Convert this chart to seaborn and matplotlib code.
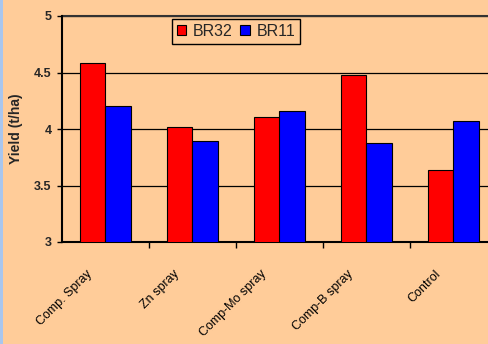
import matplotlib
matplotlib.use("Agg")
import matplotlib.pyplot as plt
import matplotlib.patches as mpatches
import matplotlib.transforms as mtransforms
from matplotlib.ticker import FixedLocator
import seaborn as sns
import pandas as pd

treatments = ["Comp. Spray", "Zn spray", "Comp-Mo spray", "Comp-B spray", "Control"]
br32 = [4.58, 4.02, 4.11, 4.48, 3.64]
br11 = [4.20, 3.89, 4.16, 3.88, 4.07]
varieties = ["BR32", "BR11"]
yticks = [3, 3.5, 4, 4.5, 5]

df = pd.DataFrame({
    "Treatment": treatments * 2,
    "Variety": [varieties[0]] * len(treatments) + [varieties[1]] * len(treatments),
    "Yield": br32 + br11,
})

sns.set_theme(style="white")
plt.rcParams["font.family"] = ["Liberation Sans", "DejaVu Sans"]

bg = "#FFCC99"
fig = plt.figure(figsize=(4.89, 3.44), dpi=100, facecolor=bg)
fig.patches.append(mpatches.Rectangle((0, 0), 3 / 489, 1, transform=fig.transFigure,
                                      facecolor="#A9C6EE", edgecolor="none", zorder=0))

ax = fig.add_axes([62 / 489, 102 / 344, 427 / 489, 226 / 344])
ax.set_facecolor(bg)

sns.barplot(data=df, x="Treatment", y="Yield", hue="Variety", order=treatments,
            hue_order=varieties, palette={"BR32": "#FF0000", "BR11": "#0000FF"},
            width=0.58, gap=0, edgecolor="black", linewidth=0.8, saturation=1,
            errorbar=None, ax=ax, zorder=3)

ax.set_ylim(3, 5)
ax.set_xlim(-0.5, -0.5 + 427 / 87)
ax.set_yticks(yticks)
ax.set_yticklabels(["3", "3.5", "4", "4.5", "5"], fontsize=9, fontweight="bold")
ax.yaxis.grid(True, color="black", linewidth=0.9, zorder=1)
ax.set_axisbelow(True)
ax.tick_params(axis="y", which="major", left=True, length=3.6, width=1, color="black", pad=4)

# category boundaries carry the x ticks; labels are placed by hand below
ax.set_xticks([])
ax.xaxis.set_minor_locator(FixedLocator([0.5, 1.5, 2.5, 3.5]))
ax.tick_params(axis="x", which="minor", bottom=True, length=4, width=1, color="black")
ax.set_xlabel("")
ax.set_ylabel("Yield (t/ha)", fontsize=10, fontweight="bold", labelpad=8)

for side in ["right", "top"]:
    ax.spines[side].set_visible(False)
for side in ["left", "bottom"]:
    ax.spines[side].set_color("black")
    ax.spines[side].set_linewidth(1.5)
ax.axhline(5, color="#333333", linewidth=1.5, zorder=2, clip_on=False)

for i, name in enumerate(treatments):
    trans = mtransforms.offset_copy(ax.get_xaxis_transform(), fig=fig,
                                    x=-15, y=-30, units="dots")
    ax.text(i, 0, name, transform=trans, rotation=45, rotation_mode="anchor",
            ha="right", va="center", fontsize=9, color="black")

leg = ax.get_legend()
if leg is not None:
    leg.remove()
handles = [mpatches.Patch(facecolor="#FF0000", edgecolor="black", linewidth=0.8),
           mpatches.Patch(facecolor="#0000FF", edgecolor="black", linewidth=0.8)]
lg = fig.legend(handles, varieties, loc="upper left",
                bbox_to_anchor=(172 / 489, 1 - 19 / 344), ncol=2, fontsize=11.5,
                frameon=True, fancybox=False, framealpha=1, facecolor=bg,
                edgecolor="black", handlelength=0.6, handleheight=0.6,
                handletextpad=0.4, columnspacing=0.5, borderpad=0.3,
                borderaxespad=0)
lg.get_frame().set_linewidth(1)

fig.savefig("out.png", dpi=100, facecolor=bg)
